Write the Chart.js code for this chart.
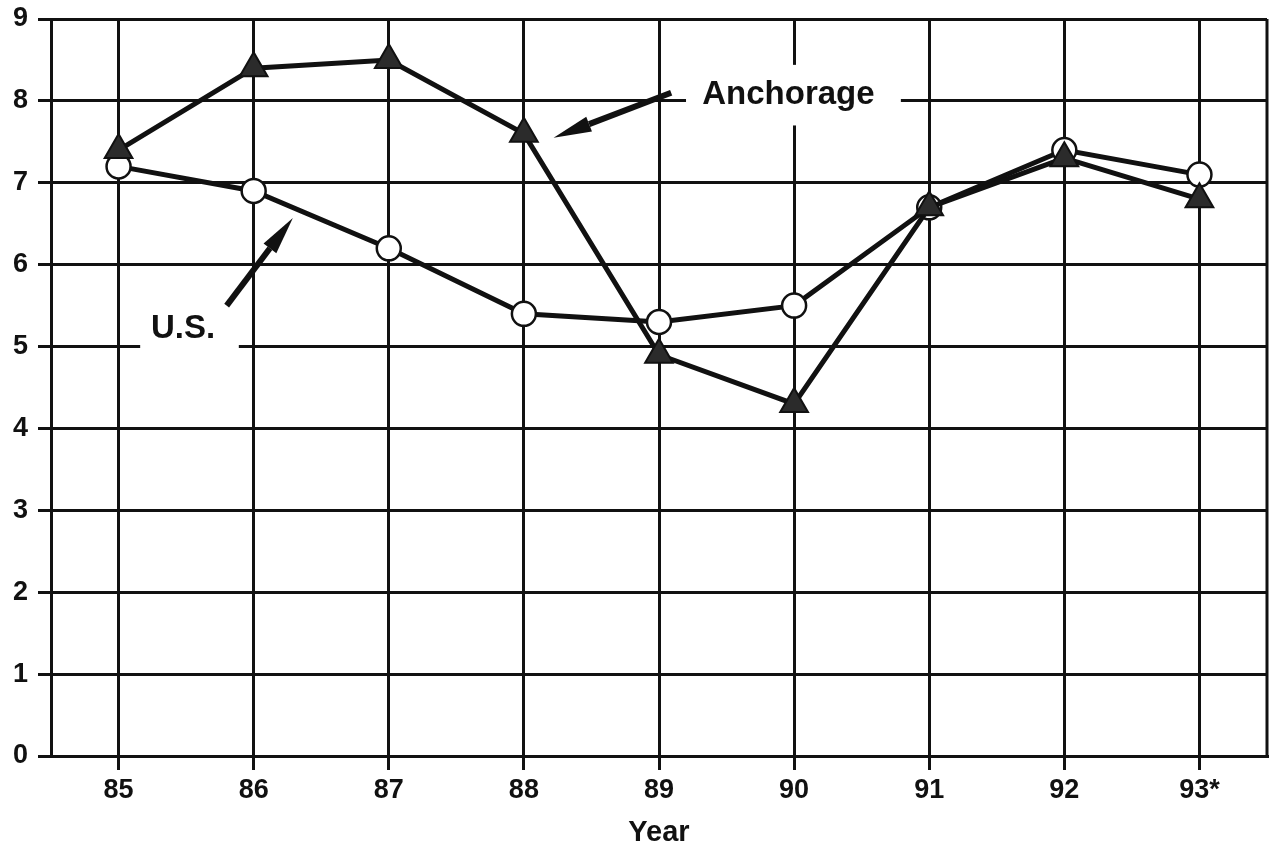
<!DOCTYPE html>
<html>
<head>
<meta charset="utf-8">
<script src="https://cdn.jsdelivr.net/npm/chart.js@4/dist/chart.umd.min.js"></script>
<style>
  html, body { margin: 0; padding: 0; background: #fff; }
  canvas { display: block; }
</style>
</head>
<body>
<canvas id="chart" width="1272" height="850"></canvas>
<script>
// values
const years = ['85', '86', '87', '88', '89', '90', '91', '92', '93*']
const anchorage = [7.4, 8.4, 8.5, 7.6, 4.9, 4.3, 6.7, 7.3, 6.8]
const us = [7.2, 6.9, 6.2, 5.4, 5.3, 5.5, 6.7, 7.4, 7.1]
const yTicks = [0, 1, 2, 3, 4, 5, 6, 7, 8, 9]

const tickFont = { family: '"Liberation Sans", Arial, sans-serif', size: 27, weight: 'bold' }
const noteFont = 'bold 33px "Liberation Sans", Arial, sans-serif'

// callout labels, placed in scale units (x = category index, y = value)
const notes = [
  { text: 'Anchorage', x: 4.32, y: 8.07, box: [4.2, 8.44, 5.79, 7.7], from: [4.09, 8.1], to: [3.22, 7.55] },
  { text: 'U.S.', x: 0.24, y: 5.22, box: [0.16, 5.5, 0.89, 4.95], from: [0.80, 5.5], to: [1.29, 6.57] }
]

function arrow(ctx, x1, y1, x2, y2) {
  const a = Math.atan2(y2 - y1, x2 - x1)
  const head = 38, half = 8
  const bx = x2 - head * Math.cos(a), by = y2 - head * Math.sin(a)
  ctx.beginPath()
  ctx.moveTo(x1, y1)
  ctx.lineTo(bx, by)
  ctx.lineWidth = 6
  ctx.strokeStyle = '#111'
  ctx.stroke()
  ctx.beginPath()
  ctx.moveTo(x2, y2)
  ctx.lineTo(bx + half * Math.sin(a), by - half * Math.cos(a))
  ctx.lineTo(bx - half * Math.sin(a), by + half * Math.cos(a))
  ctx.closePath()
  ctx.fillStyle = '#111'
  ctx.fill()
}

const frameAndNotes = {
  id: 'frameAndNotes',
  beforeDatasetsDraw(chart) {
    const { ctx, scales: { x, y } } = chart
    ctx.save()
    ctx.fillStyle = '#fff'
    notes.forEach(n => {
      const l = x.getPixelForValue(n.box[0]), t = y.getPixelForValue(n.box[1])
      const r = x.getPixelForValue(n.box[2]), b = y.getPixelForValue(n.box[3])
      ctx.fillRect(l, t, r - l, b - t)
    })
    const a = chart.chartArea
    ctx.strokeStyle = '#111'
    ctx.lineWidth = 3
    ctx.beginPath()
    ctx.moveTo(a.right, a.top)
    ctx.lineTo(a.right, a.bottom)
    ctx.stroke()
    ctx.restore()
  },
  afterDatasetsDraw(chart) {
    const { ctx, scales: { x, y } } = chart
    ctx.save()
    notes.forEach(n => {
      ctx.font = noteFont
      ctx.fillStyle = '#111'
      ctx.textBaseline = 'middle'
      ctx.textAlign = 'left'
      ctx.fillText(n.text, x.getPixelForValue(n.x), y.getPixelForValue(n.y))
      arrow(ctx, x.getPixelForValue(n.from[0]), y.getPixelForValue(n.from[1]),
        x.getPixelForValue(n.to[0]), y.getPixelForValue(n.to[1]))
    })
    ctx.restore()
  }
}

new Chart(document.getElementById('chart'), {
  type: 'line',
  data: {
    labels: years,
    datasets: [{
      label: 'Anchorage',
      data: anchorage,
      borderColor: '#111',
      borderWidth: 5,
      pointStyle: 'triangle',
      pointRadius: 16,
      pointBackgroundColor: '#2b2b2b',
      pointBorderColor: '#111',
      pointBorderWidth: 2,
      tension: 0,
      order: 0
    }, {
      label: 'U.S.',
      data: us,
      borderColor: '#111',
      borderWidth: 5,
      pointStyle: 'circle',
      pointRadius: 12,
      pointBackgroundColor: '#fff',
      pointBorderColor: '#111',
      pointBorderWidth: 2.5,
      tension: 0,
      order: 1
    }]
  },
  options: {
    responsive: false,
    animation: false,
    layout: { autoPadding: false, padding: { top: 19, right: 5, left: 0, bottom: 0 } },
    plugins: { legend: { display: false }, tooltip: { enabled: false } },
    scales: {
      x: {
        offset: true,
        grid: { color: '#111', lineWidth: 3, tickLength: 14 },
        border: { color: '#111', width: 3 },
        ticks: { color: '#111', font: tickFont, padding: 4, maxRotation: 0 },
        title: {
          display: true, text: 'Year', color: '#111',
          font: { family: '"Liberation Sans", Arial, sans-serif', size: 29, weight: 'bold' },
          padding: { top: 8, bottom: 0 }
        },
        afterFit(scale) {
          scale.height = 94
          scale.paddingLeft = 0
          scale.paddingRight = 0
        }
      },
      y: {
        min: 0,
        max: 9,
        afterBuildTicks(scale) { scale.ticks = yTicks.map(v => ({ value: v })) },
        grid: { color: '#111', lineWidth: 3, tickLength: 13 },
        border: { color: '#111', width: 3 },
        ticks: { color: '#111', font: tickFont, padding: 10 },
        afterFit(scale) {
          scale.width = 51
          scale.paddingTop = 0
          scale.paddingBottom = 0
        }
      }
    }
  },
  plugins: [frameAndNotes]
})
</script>
</body>
</html>
